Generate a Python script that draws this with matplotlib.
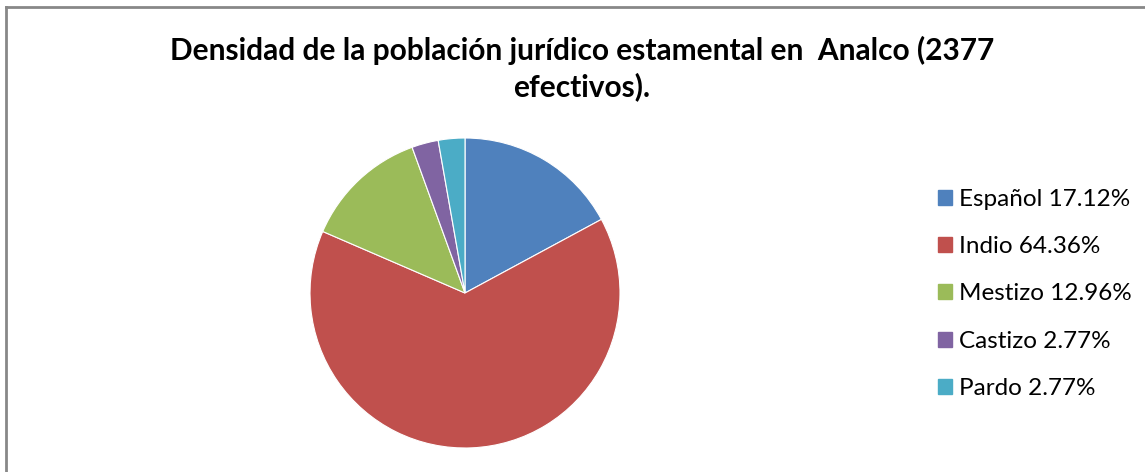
import matplotlib
matplotlib.use('Agg')
import matplotlib.pyplot as plt
import matplotlib.patches as mpatches
from matplotlib.lines import Line2D

# ── Data ──────────────────────────────────────────────────────────────────────
CATEGORIES = ['Español', 'Indio', 'Mestizo', 'Castizo', 'Pardo']
PERCENTS = [17.12, 64.36, 12.96, 2.77, 2.77]
COLORS = ['#4F81BD', '#C0504D', '#9BBB59', '#8064A2', '#4BACC6']
TITLE = 'Densidad de la población jurídico estamental en  Analco (2377\nefectivos).'

FONT = ['Lato', 'DejaVu Sans']

W, H = 1145, 472
fig = plt.figure(figsize=(W / 100, H / 100), dpi=100)

# ── Pie ───────────────────────────────────────────────────────────────────────
cx, cy, r = 465, 293, 155
ax = fig.add_axes([(cx - r) / W, (H - cy - r) / H, 2 * r / W, 2 * r / H])
ax.pie(PERCENTS, colors=COLORS, startangle=90, counterclock=False,
       wedgeprops=dict(edgecolor='white', linewidth=0.8), radius=1.0)
ax.set_xlim(-1, 1)
ax.set_ylim(-1, 1)
ax.set_aspect('equal')
ax.axis('off')

# ── Title ─────────────────────────────────────────────────────────────────────
fig.text(582 / W, 1 - 69 / H, TITLE, ha='center', va='center',
         fontsize=21.5, fontweight='bold', family=FONT, linespacing=1.3)

# ── Legend ────────────────────────────────────────────────────────────────────
handles = [mpatches.Patch(color=c) for c in COLORS]
labels = [f'{n} {p:.2f}%' for n, p in zip(CATEGORIES, PERCENTS)]
fig.legend(handles, labels, loc='upper left', bbox_to_anchor=(938 / W, 1 - 189 / H),
           frameon=False, prop=dict(family=FONT, size=17.5),
           handlelength=0.58, handleheight=0.58, handletextpad=0.3,
           labelspacing=1.08, borderpad=0, borderaxespad=0)

# ── Frame (top and left visible) ──────────────────────────────────────────────
fig.add_artist(Line2D([5.5 / W, 1], [1 - 6.5 / H, 1 - 6.5 / H], color='#888888', lw=2))
fig.add_artist(Line2D([5.5 / W, 5.5 / W], [0, 1 - 6.5 / H], color='#888888', lw=2))

fig.savefig('out.png', dpi=100)
